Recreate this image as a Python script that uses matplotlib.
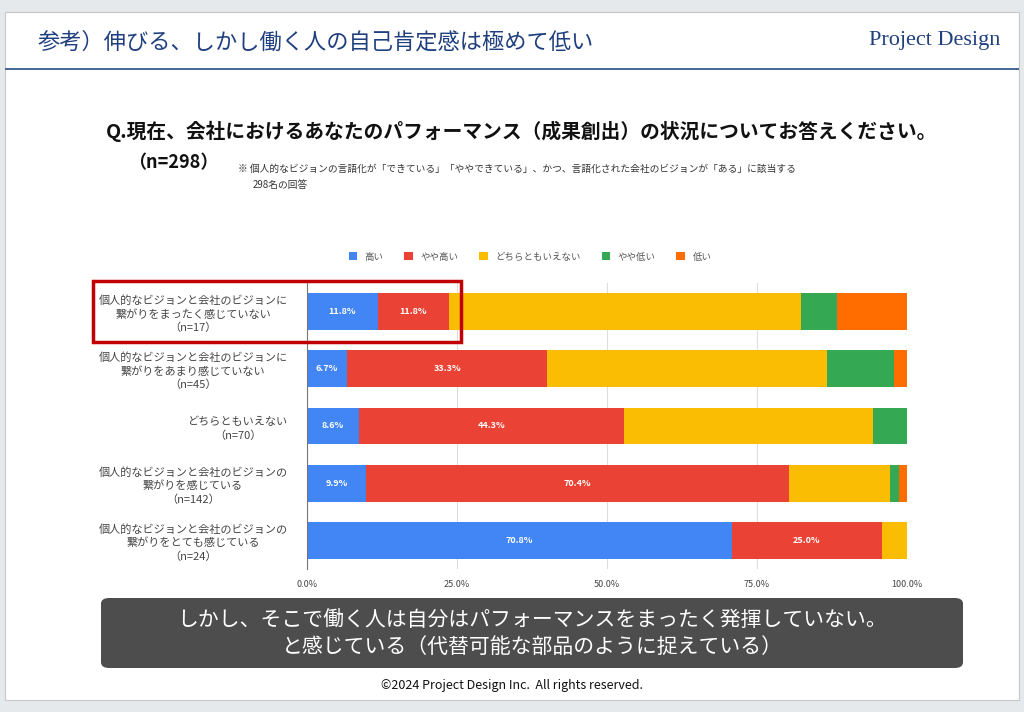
import matplotlib.pyplot as plt
import numpy as np
from matplotlib.patches import Rectangle, FancyBboxPatch

plt.rcParams["font.family"] = ["Noto Sans CJK JP", "DejaVu Sans"]

# data (percent)
rows = [
    "個人的なビジョンと会社のビジョンに\n繋がりをまったく感じていない\n（n=17）",
    "個人的なビジョンと会社のビジョンに\n繋がりをあまり感じていない\n（n=45）",
    "どちらともいえない\n（n=70）",
    "個人的なビジョンと会社のビジョンの\n繋がりを感じている\n（n=142）",
    "個人的なビジョンと会社のビジョンの\n繋がりをとても感じている\n（n=24）",
]
series = ["高い", "やや高い", "どちらともいえない", "やや低い", "低い"]
high = [11.8, 6.7, 8.6, 9.9, 70.8]
mid_high = [11.8, 33.3, 44.3, 70.4, 25.0]
neutral = [58.8, 46.7, 41.4, 16.9, 4.2]
mid_low = [5.9, 11.1, 5.7, 1.4, 0.0]
low = [11.8, 2.2, 0.0, 1.4, 0.0]
colors = ["#4285F4", "#EA4335", "#FBBC04", "#34A853", "#FF6D01"]
xticks = [0, 25, 50, 75, 100]

W, H = 1024, 712
fig = plt.figure(figsize=(W / 100, H / 100), dpi=100)
fig.patch.set_facecolor("#e6e9ec")


def px(x, y, w, h):
    # pixel box (top-left origin) -> figure fraction
    return x / W, 1 - (y + h) / H, w / W, h / H


# slide background
l, b, w, h = px(5, 12, 1014, 688)
fig.patches.append(Rectangle((l, b), w, h, transform=fig.transFigure,
                             facecolor="white", edgecolor="#c8c8c8", lw=0.8, zorder=-2))
# header line
l, b, w, h = px(5, 68, 1014, 2)
fig.patches.append(Rectangle((l, b), w, h, transform=fig.transFigure,
                             facecolor="#4a6a96", edgecolor="none", zorder=-1))

navy = "#1f3f7f"
fig.text(38 / W, 1 - 42 / H, "参考）伸びる、しかし働く人の自己肯定感は極めて低い",
         fontsize=16, color=navy, va="center", ha="left")
fig.text(1000 / W, 1 - 40 / H, "Project Design", fontsize=16, color=navy,
         family="Liberation Serif", va="center", ha="right")

fig.text(522 / W, 1 - 131 / H,
         "Q.現在、会社におけるあなたのパフォーマンス（成果創出）の状況についてお答えください。",
         fontsize=14.2, fontweight="bold", ha="center", va="center", color="#111111")
fig.text(128 / W, 1 - 163 / H, "（n=298）", fontsize=13, fontweight="bold",
         ha="left", va="center", color="#111111")
fig.text(238 / W, 1 - 169 / H,
         "※ 個人的なビジョンの言語化が「できている」「ややできている」、かつ、言語化された会社のビジョンが「ある」に該当する",
         fontsize=7, ha="left", va="center", color="#333333")
fig.text(253 / W, 1 - 185 / H, "298名の回答", fontsize=7, ha="left", va="center",
         color="#333333")

# chart
ax = fig.add_axes(px(307, 283, 600, 286))
data = [high, mid_high, neutral, mid_low, low]
y = np.arange(len(rows))
left = np.zeros(len(rows))
for name, vals, c in zip(series, data, colors):
    vals = np.array(vals)
    bars = ax.barh(y, vals, left=left, height=0.64, color=c, label=name, zorder=2)
    if name in ("高い", "やや高い"):
        for bx, v, yy in zip(left, vals, y):
            ax.text(bx + v / 2, yy, f"{v:.1f}%", ha="center", va="center",
                    fontsize=6.5, color="white", fontweight="bold", zorder=3)
    left += vals

ax.set_xlim(0, 100)
ax.set_ylim(len(rows) - 0.5, -0.5)
ax.set_xticks(xticks)
ax.set_xticklabels([f"{t:.1f}%" for t in xticks], fontsize=6.5, color="#444444")
ax.set_yticks(y)
ax.set_yticklabels(rows, fontsize=8, color="#444444", multialignment="center",
                   linespacing=1.35)
ax.tick_params(axis="both", length=0)
ax.tick_params(axis="y", pad=14)
ax.tick_params(axis="x", pad=8)
ax.grid(axis="x", color="#dddddd", lw=0.8, zorder=0)
for s in ["top", "right", "bottom"]:
    ax.spines[s].set_visible(False)
ax.spines["left"].set_color("#777777")
ax.set_facecolor("none")

handles, labels = ax.get_legend_handles_labels()
fig.legend(handles, labels, loc="center", bbox_to_anchor=(530 / W, 1 - 257 / H),
           ncol=5, frameon=False, fontsize=6.8, handlelength=0.9, handleheight=0.9,
           columnspacing=2.2, handletextpad=0.8, labelcolor="#555555")

# highlight box
l, b, w, h = px(93, 281, 368, 61)
fig.patches.append(Rectangle((l, b), w, h, transform=fig.transFigure,
                             facecolor="none", edgecolor="#c00000", lw=2.5, zorder=5))

# message box
l, b, w, h = px(101, 598, 862, 70)
fig.patches.append(FancyBboxPatch((l, b), w, h, transform=fig.transFigure,
                                  boxstyle="round,pad=0,rounding_size=0.008",
                                  facecolor="#4d4d4d", edgecolor="none", zorder=1))
fig.text(532 / W, 1 - 620 / H,
         "しかし、そこで働く人は自分はパフォーマンスをまったく発揮していない。",
         fontsize=15, color="white", ha="center", va="center", zorder=6)
fig.text(532 / W, 1 - 647 / H, "と感じている（代替可能な部品のように捉えている）",
         fontsize=15, color="white", ha="center", va="center", zorder=6)

fig.text(512 / W, 1 - 685 / H, "©2024 Project Design Inc.  All rights reserved.",
         fontsize=9, color="#111111", ha="center", va="center")

fig.savefig("out.png", dpi=100, facecolor=fig.get_facecolor())
